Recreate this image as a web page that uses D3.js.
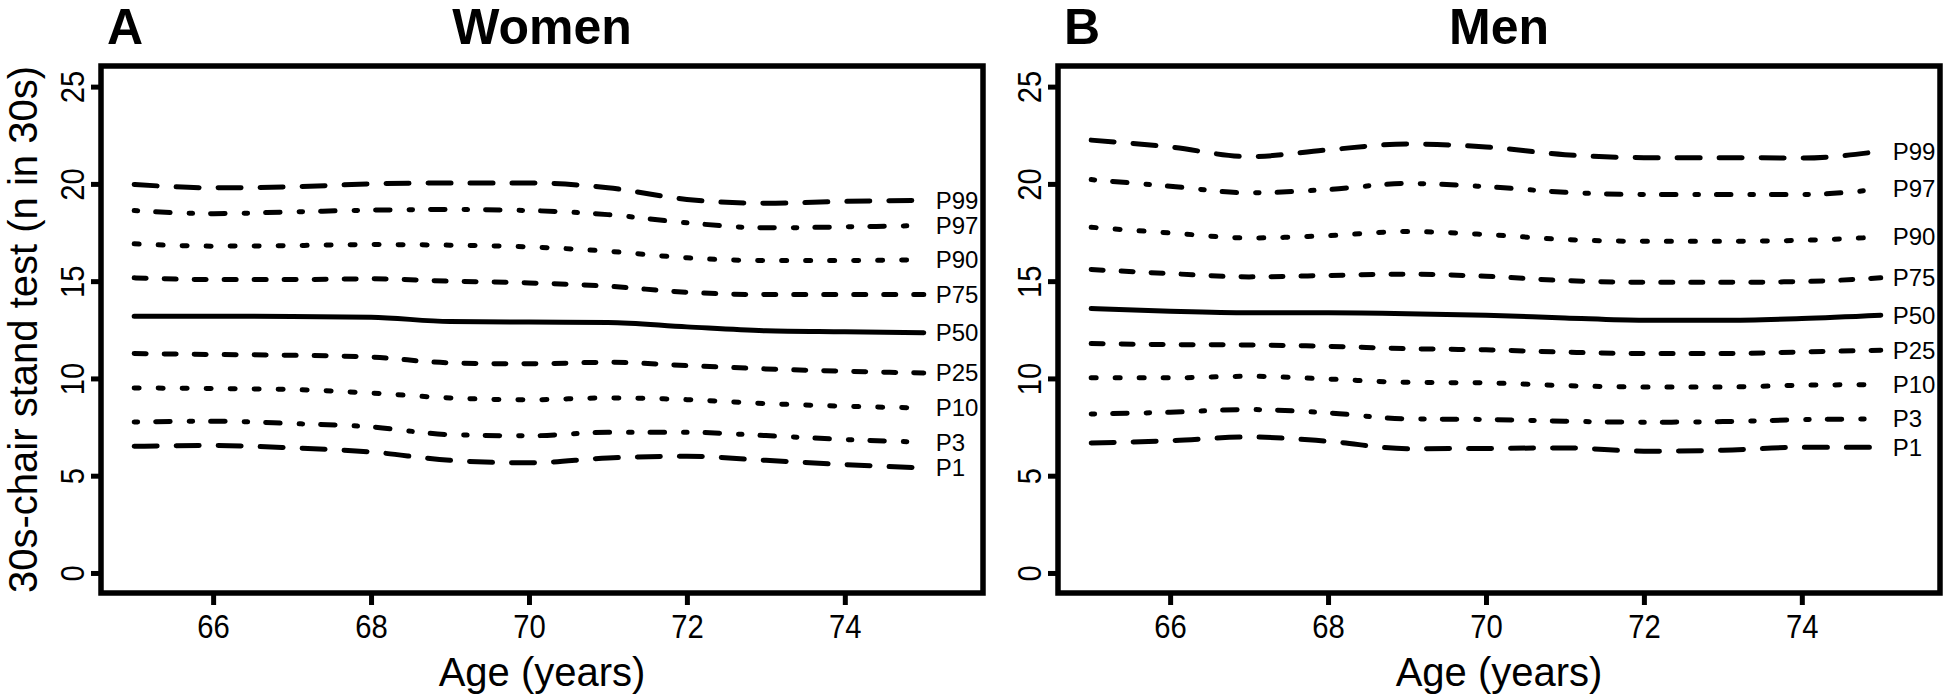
<!DOCTYPE html>
<html>
<head>
<meta charset="utf-8">
<script src="https://cdn.jsdelivr.net/npm/d3@7"></script>
<style>
  body { margin: 0; background: #fff; }
  text { font-family: 'Liberation Sans', Arial, Helvetica, sans-serif; fill: #000; }
</style>
</head>
<body>
<div id="chart"></div>
<script>
// ages on the x axis
const ages = [65, 66, 67, 68, 69, 70, 71, 72, 73, 74, 75];
const xTicks = [66, 68, 70, 72, 74];
const yTicks = [0, 5, 10, 15, 20, 25];
const centiles = ['P1', 'P3', 'P10', 'P25', 'P50', 'P75', 'P90', 'P97', 'P99'];

// women
const womenP1 = [6.51, 6.55, 6.43, 6.22, 5.79, 5.66, 5.91, 6.0, 5.79, 5.57, 5.4];
const womenP3 = [7.76, 7.8, 7.68, 7.51, 7.11, 7.05, 7.23, 7.23, 7.06, 6.86, 6.72];
const womenP10 = [9.51, 9.48, 9.43, 9.25, 9.0, 8.9, 9.0, 8.91, 8.71, 8.57, 8.48];
const womenP25 = [11.28, 11.23, 11.19, 11.1, 10.8, 10.75, 10.83, 10.66, 10.49, 10.37, 10.28];
const womenP50 = [13.2, 13.2, 13.18, 13.15, 12.92, 12.9, 12.88, 12.65, 12.45, 12.4, 12.35];
const womenP75 = [15.17, 15.08, 15.08, 15.12, 15.0, 14.91, 14.74, 14.43, 14.31, 14.31, 14.31];
const womenP90 = [16.92, 16.8, 16.83, 16.88, 16.85, 16.76, 16.54, 16.2, 16.06, 16.06, 16.1];
const womenP97 = [18.63, 18.47, 18.56, 18.65, 18.68, 18.63, 18.42, 18.0, 17.74, 17.79, 17.86];
const womenP99 = [19.97, 19.8, 19.85, 20.0, 20.05, 20.05, 19.8, 19.2, 19.0, 19.1, 19.15];

// men
const menP1 = [6.68, 6.8, 6.99, 6.77, 6.39, 6.4, 6.43, 6.26, 6.31, 6.46, 6.46];
const menP3 = [8.17, 8.26, 8.4, 8.23, 7.92, 7.89, 7.8, 7.75, 7.78, 7.88, 7.92];
const menP10 = [10.03, 10.03, 10.11, 9.97, 9.8, 9.77, 9.63, 9.56, 9.56, 9.65, 9.68];
const menP25 = [11.79, 11.74, 11.72, 11.65, 11.53, 11.47, 11.35, 11.28, 11.28, 11.36, 11.45];
const menP50 = [13.59, 13.45, 13.37, 13.37, 13.33, 13.25, 13.11, 12.99, 12.99, 13.08, 13.25];
const menP75 = [15.6, 15.39, 15.22, 15.29, 15.36, 15.25, 15.03, 14.94, 14.94, 14.98, 15.17];
const menP90 = [17.77, 17.48, 17.22, 17.34, 17.55, 17.4, 17.14, 17.05, 17.05, 17.1, 17.27];
const menP97 = [20.22, 19.88, 19.54, 19.71, 20.02, 19.86, 19.57, 19.45, 19.45, 19.45, 19.74];
const menP99 = [22.25, 21.9, 21.4, 21.75, 22.05, 21.9, 21.5, 21.35, 21.35, 21.33, 21.68];

const WIDTH = 1946;
const HEIGHT = 694;
const BOX_TOP = 66;
const BOX_BOTTOM = 593;
const LINE_WIDTH = 5;

// dash pattern per centile (R style lty), P50 is solid
const DASHES = {
  P1: '23 19', P99: '23 19',
  P3: '3.5 18 14.5 19', P97: '3.5 18 14.5 19',
  P10: '5 19', P90: '5 19',
  P25: '12 18', P75: '12 18',
  P50: null
};

const svg = d3
  .select('#chart')
  .append('svg')
  .attr('width', WIDTH)
  .attr('height', HEIGHT);

svg.append('rect').attr('width', WIDTH).attr('height', HEIGHT).attr('fill', '#fff');

function drawPanel(left, right, letter, title, series, withYLabel) {
  const x = d3.scaleLinear().domain([64.58, 75.75]).range([left, right]);
  const y = d3.scaleLinear().domain([-1.03, 26.06]).range([BOX_BOTTOM, BOX_TOP]);
  const g = svg.append('g');

  // x axis
  const gx = g
    .append('g')
    .attr('transform', 'translate(0,' + BOX_BOTTOM + ')')
    .call(d3.axisBottom(x).tickValues(xTicks).tickSize(12).tickPadding(9).tickFormat(d3.format('d')));
  gx.select('.domain').remove();
  gx.selectAll('line').attr('stroke', '#000').attr('stroke-width', LINE_WIDTH);
  gx.selectAll('text')
    .attr('transform', 'scale(0.86,1)')
    .style('font-size', '34px')
    .attr('fill', '#000');

  // y axis, labels turned like R's las = 0
  const gy = g
    .append('g')
    .attr('transform', 'translate(' + left + ',0)')
    .call(d3.axisLeft(y).tickValues(yTicks).tickSize(10));
  gy.select('.domain').remove();
  gy.selectAll('line').attr('stroke', '#000').attr('stroke-width', LINE_WIDTH);
  gy.selectAll('text')
    .attr('x', 0)
    .attr('y', -17)
    .attr('dy', 0)
    .attr('transform', 'rotate(-90) scale(0.86,1)')
    .style('text-anchor', 'middle')
    .style('font-size', '34px')
    .attr('fill', '#000');

  // frame
  g.append('rect')
    .attr('x', left)
    .attr('y', BOX_TOP)
    .attr('width', right - left)
    .attr('height', BOX_BOTTOM - BOX_TOP)
    .attr('fill', 'none')
    .attr('stroke', '#000')
    .attr('stroke-width', 5.5);

  // centile curves
  const line = d3
    .line()
    .x((d, i) => x(ages[i]))
    .y((d) => y(d))
    .curve(d3.curveMonotoneX);

  g.selectAll('path.centile')
    .data(series)
    .join('path')
    .attr('class', 'centile')
    .attr('d', (d) => line(d))
    .attr('fill', 'none')
    .attr('stroke', '#000')
    .attr('stroke-width', LINE_WIDTH)
    .attr('stroke-linecap', 'round')
    .attr('stroke-dasharray', (d, i) => DASHES[centiles[i]]);

  g.selectAll('text.centile')
    .data(series)
    .join('text')
    .attr('class', 'centile')
    .attr('x', x(75) + 12)
    .attr('y', (d) => y(d[d.length - 1]))
    .attr('dy', '0.35em')
    .style('font-size', '24px')
    .text((d, i) => centiles[i]);

  // panel letter and title
  g.append('text')
    .attr('x', left + 6)
    .attr('y', 44)
    .style('font-size', '50px')
    .style('font-weight', 'bold')
    .text(letter);
  g.append('text')
    .attr('x', (left + right) / 2)
    .attr('y', 44)
    .style('font-size', '50px')
    .style('font-weight', 'bold')
    .style('text-anchor', 'middle')
    .text(title);

  g.append('text')
    .attr('x', (left + right) / 2)
    .attr('y', 686)
    .style('font-size', '40px')
    .style('text-anchor', 'middle')
    .text('Age (years)');

  if (withYLabel) {
    g.append('text')
      .attr('transform', 'translate(37,' + (BOX_TOP + BOX_BOTTOM) / 2 + ') rotate(-90)')
      .style('font-size', '40px')
      .style('text-anchor', 'middle')
      .text('30s-chair stand test (n in 30s)');
  }
}

drawPanel(101, 983, 'A', 'Women',
  [womenP1, womenP3, womenP10, womenP25, womenP50, womenP75, womenP90, womenP97, womenP99], true);
drawPanel(1058, 1940, 'B', 'Men',
  [menP1, menP3, menP10, menP25, menP50, menP75, menP90, menP97, menP99], false);
</script>
</body>
</html>
